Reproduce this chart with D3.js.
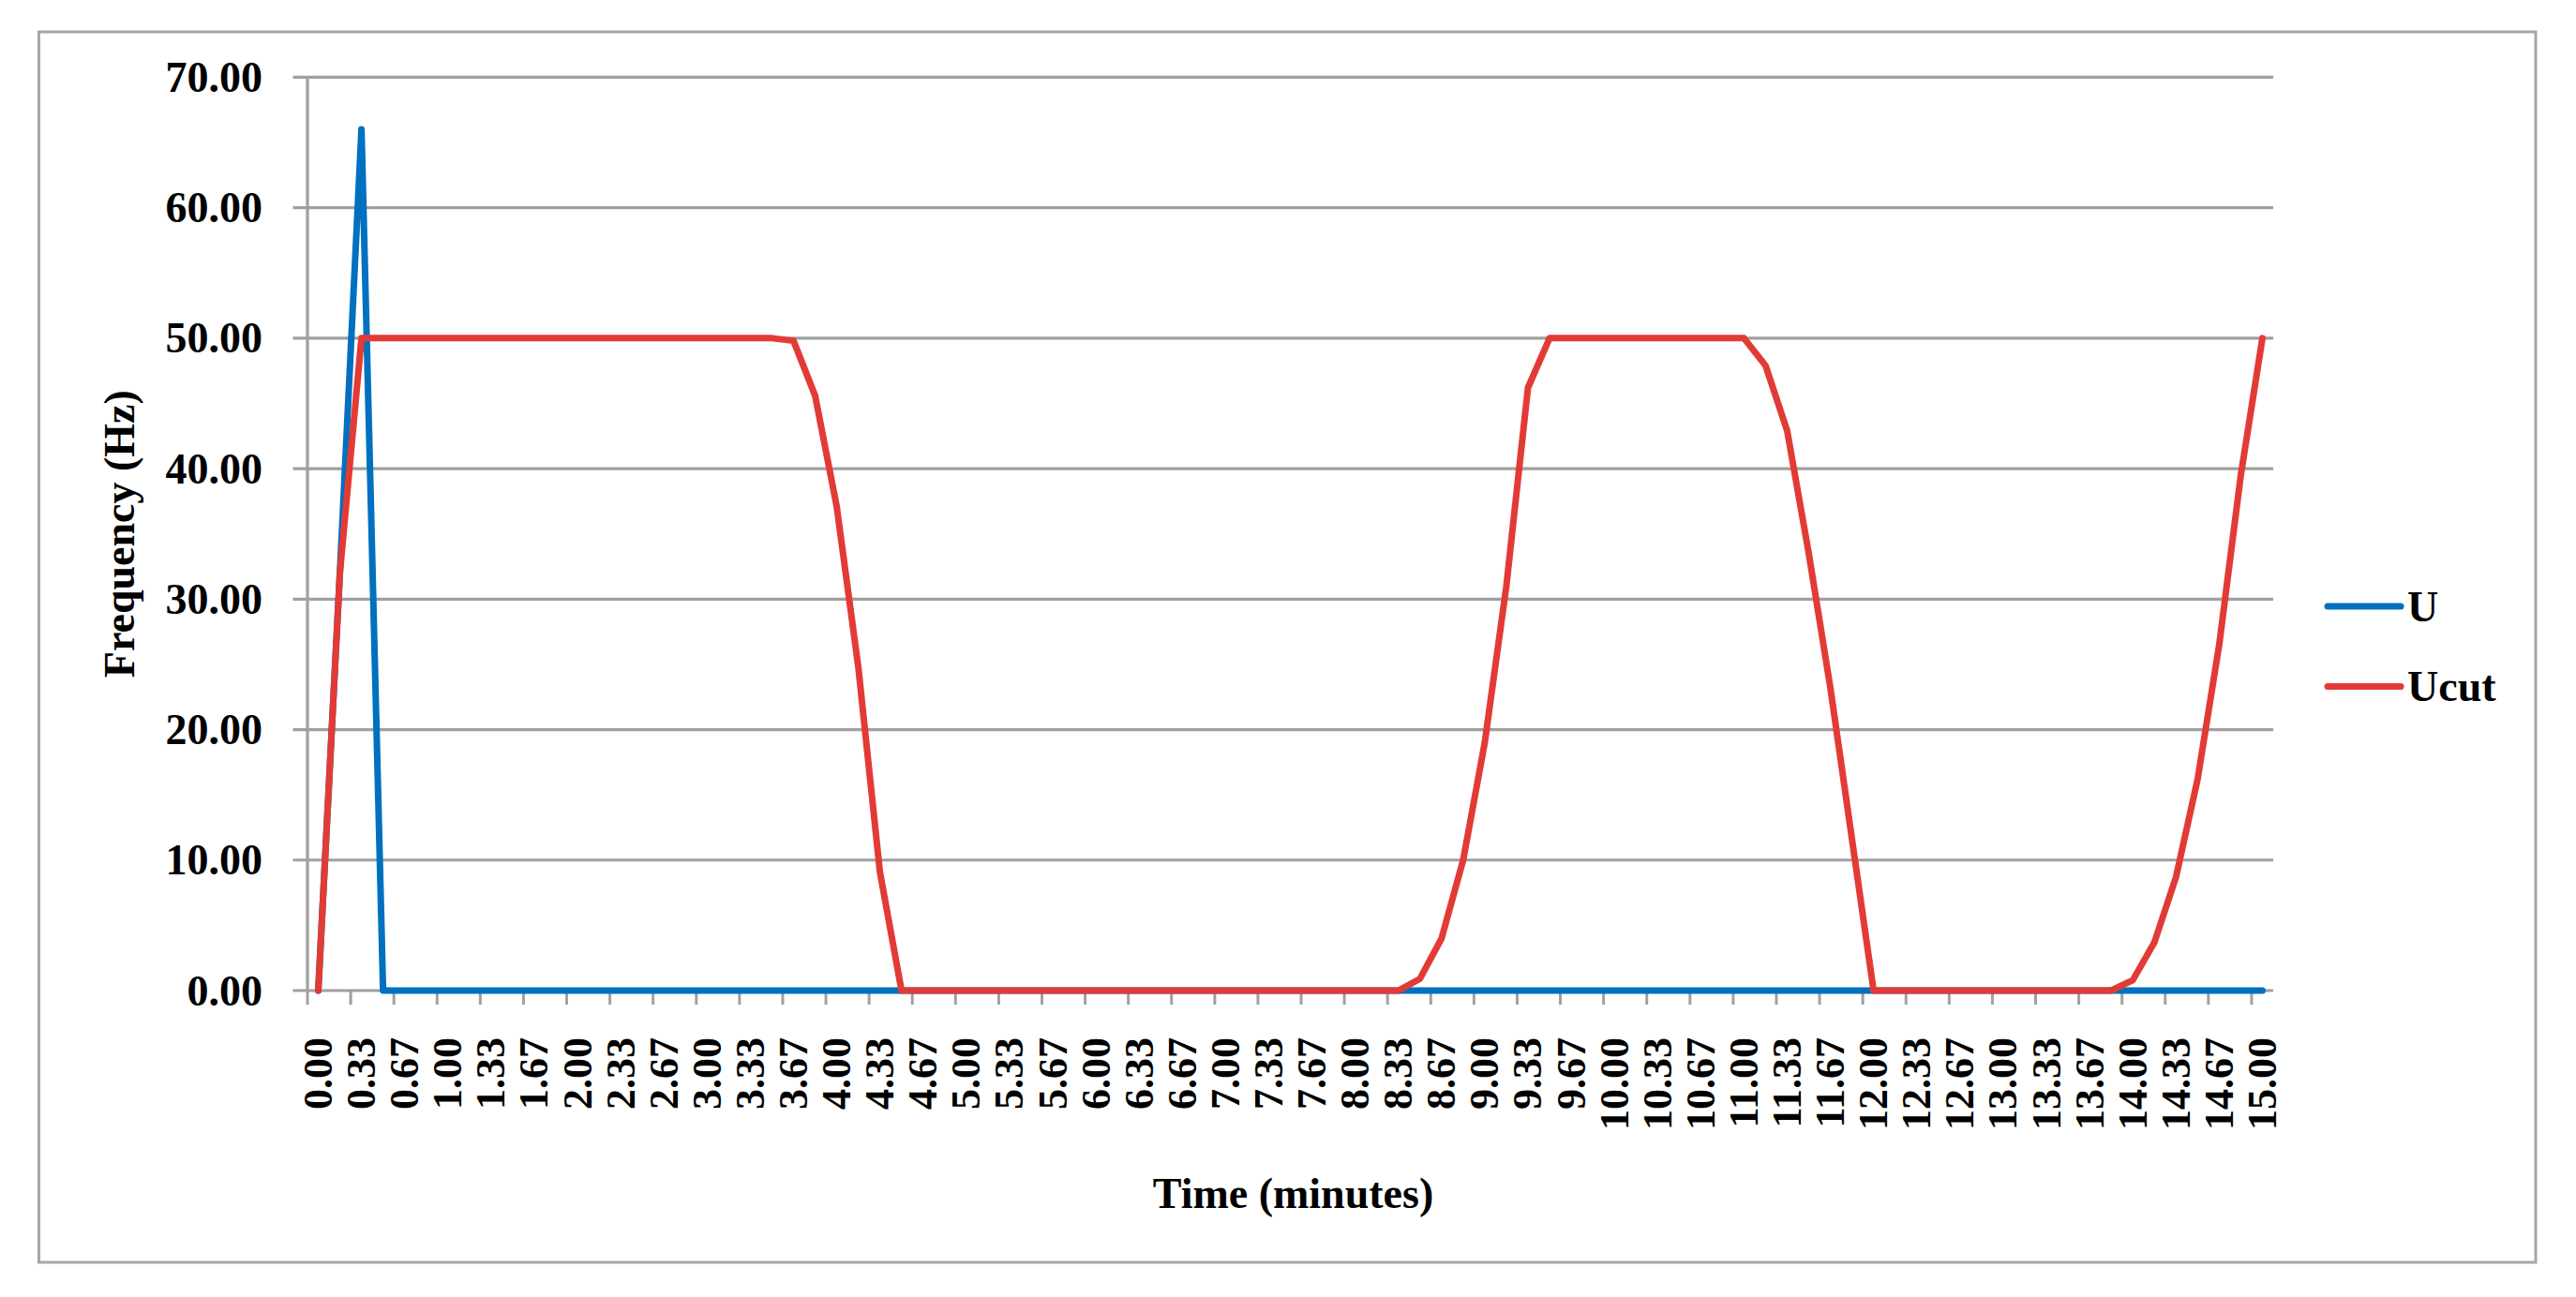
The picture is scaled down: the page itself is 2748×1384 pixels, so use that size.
<!DOCTYPE html>
<html>
<head>
<meta charset="utf-8">
<script src="https://cdn.jsdelivr.net/npm/d3@7"></script>
<style>
  html, body { margin: 0; padding: 0; background: #ffffff; }
  svg { display: block; }
  text { font-family: "Palatino Linotype", "Book Antiqua", Palatino, "Liberation Serif", "DejaVu Serif", serif; font-weight: bold; fill: #000; }
</style>
</head>
<body>
<svg id="chart" width="2748" height="1384"></svg>
<script>
// ---- Data ----
const categories = [
  "0.00","0.17","0.33","0.50","0.67","0.83",
  "1.00","1.17","1.33","1.50","1.67","1.83",
  "2.00","2.17","2.33","2.50","2.67","2.83",
  "3.00","3.17","3.33","3.50","3.67","3.83",
  "4.00","4.17","4.33","4.50","4.67","4.83",
  "5.00","5.17","5.33","5.50","5.67","5.83",
  "6.00","6.17","6.33","6.50","6.67","6.83",
  "7.00","7.17","7.33","7.50","7.67","7.83",
  "8.00","8.17","8.33","8.50","8.67","8.83",
  "9.00","9.17","9.33","9.50","9.67","9.83",
  "10.00","10.17","10.33","10.50","10.67","10.83",
  "11.00","11.17","11.33","11.50","11.67","11.83",
  "12.00","12.17","12.33","12.50","12.67","12.83",
  "13.00","13.17","13.33","13.50","13.67","13.83",
  "14.00","14.17","14.33","14.50","14.67","14.83",
  "15.00"
];

const seriesU = [
  0, 32, 66, 0, 0, 0, 0, 0, 0, 0,
  0, 0, 0, 0, 0, 0, 0, 0, 0, 0,
  0, 0, 0, 0, 0, 0, 0, 0, 0, 0,
  0, 0, 0, 0, 0, 0, 0, 0, 0, 0,
  0, 0, 0, 0, 0, 0, 0, 0, 0, 0,
  0, 0, 0, 0, 0, 0, 0, 0, 0, 0,
  0, 0, 0, 0, 0, 0, 0, 0, 0, 0,
  0, 0, 0, 0, 0, 0, 0, 0, 0, 0,
  0, 0, 0, 0, 0, 0, 0, 0, 0, 0,
  0
];

const seriesUcut = [
  0, 32, 50, 50, 50, 50, 50, 50, 50, 50,
  50, 50, 50, 50, 50, 50, 50, 50, 50, 50,
  50, 50, 49.8, 45.6, 37.1, 24.8, 9.1, 0, 0, 0,
  0, 0, 0, 0, 0, 0, 0, 0, 0, 0,
  0, 0, 0, 0, 0, 0, 0, 0, 0, 0,
  0, 0.9, 4.0, 10.0, 19.0, 31.0, 46.2, 50, 50, 50,
  50, 50, 50, 50, 50, 50, 50, 47.9, 42.9, 33.5,
  23.2, 11.6, 0, 0, 0, 0, 0, 0, 0, 0,
  0, 0, 0, 0, 0.8, 3.7, 8.7, 16.2, 26.5, 39.5,
  50
];

const yTicks = [0, 10, 20, 30, 40, 50, 60, 70];
const xTickLabels = categories.filter((d, i) => i % 2 === 0);

const seriesNames = ["U", "Ucut"];
const seriesColors = ["#0070C0", "#E23B36"];

// ---- Layout ----
const svg = d3.select("#chart");
const plotLeft = 328, plotRight = 2425, plotTop = 82.4, plotBottom = 1057;

svg.append("rect").attr("x", 0).attr("y", 0).attr("width", 2748).attr("height", 1384).attr("fill", "#fff");
// outer border
svg.append("rect")
  .attr("x", 41.5).attr("y", 34).attr("width", 2663.5).attr("height", 1313)
  .attr("fill", "none").attr("stroke", "#a6a6a6").attr("stroke-width", 3);

const x = d3.scaleBand().domain(d3.range(categories.length)).range([plotLeft, plotRight]).paddingInner(0).paddingOuter(0);
const xc = i => x(i) + x.bandwidth() / 2;
const y = d3.scaleLinear().domain([0, 70]).range([plotBottom, plotTop]);

// gridlines (with left tick extension)
svg.append("g").selectAll("line").data(yTicks).join("line")
  .attr("x1", plotLeft - 15.5).attr("x2", plotRight)
  .attr("y1", d => y(d)).attr("y2", d => y(d))
  .attr("stroke", "#a0a0a0").attr("stroke-width", 3.2);

// y axis line
svg.append("line")
  .attr("x1", plotLeft).attr("x2", plotLeft)
  .attr("y1", y(70)).attr("y2", plotBottom)
  .attr("stroke", "#a0a0a0").attr("stroke-width", 3.2);

// x ticks at every other category boundary
const tickIdx = d3.range(0, categories.length, 2);
svg.append("g").selectAll("line").data(tickIdx).join("line")
  .attr("x1", d => x(d)).attr("x2", d => x(d))
  .attr("y1", plotBottom).attr("y2", plotBottom + 15)
  .attr("stroke", "#a0a0a0").attr("stroke-width", 3);

// y tick labels
svg.append("g").selectAll("text").data(yTicks).join("text")
  .attr("x", 280).attr("y", d => y(d))
  .attr("text-anchor", "end").attr("dominant-baseline", "central")
  .attr("font-size", 46)
  .text(d => d3.format(".2f")(d));

// x tick labels (rotated)
svg.append("g").selectAll("text").data(tickIdx).join("text")
  .attr("transform", d => `translate(${xc(d)},${1107}) rotate(-90)`)
  .attr("text-anchor", "end").attr("dominant-baseline", "central")
  .attr("font-size", 44)
  .text(d => categories[d]);

// axis titles
svg.append("text")
  .attr("transform", `translate(127,${(plotTop + plotBottom) / 2}) rotate(-90)`)
  .attr("text-anchor", "middle").attr("dominant-baseline", "central")
  .attr("font-size", 46)
  .text("Frequency (Hz)");

svg.append("text")
  .attr("x", (plotLeft + plotRight) / 2 + 3).attr("y", 1273)
  .attr("text-anchor", "middle").attr("dominant-baseline", "central")
  .attr("font-size", 46)
  .text("Time (minutes)");

// lines
const line = d3.line().x((d, i) => xc(i)).y(d => y(d));
[seriesU, seriesUcut].forEach((s, k) => {
  svg.append("path")
    .datum(s)
    .attr("d", line)
    .attr("fill", "none")
    .attr("stroke", seriesColors[k])
    .attr("stroke-width", 7)
    .attr("stroke-linejoin", "round")
    .attr("stroke-linecap", "round");
});

// legend
const legendY = [647, 732.6];
const lg = svg.append("g");
seriesNames.forEach((name, k) => {
  lg.append("line")
    .attr("x1", 2483).attr("x2", 2561)
    .attr("y1", legendY[k]).attr("y2", legendY[k])
    .attr("stroke", seriesColors[k]).attr("stroke-width", 7)
    .attr("stroke-linecap", "round");
  lg.append("text")
    .attr("x", 2568).attr("y", legendY[k])
    .attr("dominant-baseline", "central")
    .attr("font-size", 46)
    .text(name);
});
</script>
</body>
</html>
